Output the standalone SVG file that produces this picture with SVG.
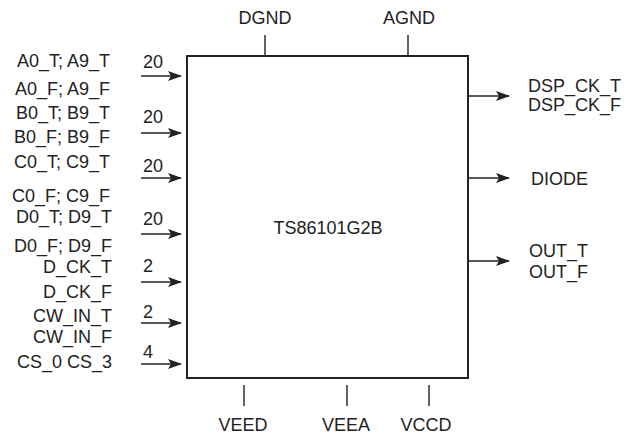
<svg xmlns="http://www.w3.org/2000/svg" width="628" height="435" viewBox="0 0 628 435">
<defs>
<marker id="ah" markerWidth="14" markerHeight="10" refX="13" refY="5" orient="auto" markerUnits="userSpaceOnUse">
<path d="M0,0 L14,5 L0,10 L3,5 Z" fill="#222"/>
</marker>
</defs>
<style>
text{font-family:"Liberation Sans",Arial,sans-serif;font-size:18px;fill:#222}
.e{text-anchor:end}
.m{text-anchor:middle}
.a{stroke:#222;stroke-width:1.4;fill:none;marker-end:url(#ah)}
.p{stroke:#222;stroke-width:1.4;fill:none}
</style>
<rect width="628" height="435" fill="#fff"/>
<g id="chip">
<rect x="187" y="56" width="281" height="322" fill="#fff" stroke="#222" stroke-width="2"/>
<text class="m" x="328" y="234">TS86101G2B</text>
</g>
<g id="connectors">
<line class="a" x1="141" y1="76" x2="181" y2="76"/>
<line class="a" x1="141" y1="133" x2="181" y2="133"/>
<line class="a" x1="141" y1="178" x2="181" y2="178"/>
<line class="a" x1="141" y1="234" x2="181" y2="234"/>
<line class="a" x1="141" y1="282" x2="181" y2="282"/>
<line class="a" x1="141" y1="323" x2="181" y2="323"/>
<line class="a" x1="141" y1="364" x2="181" y2="364"/>
<line class="a" x1="468" y1="96" x2="509" y2="96"/>
<line class="a" x1="468" y1="178" x2="509" y2="178"/>
<line class="a" x1="468" y1="261" x2="509" y2="261"/>
<line class="p" x1="265" y1="35" x2="265" y2="56"/>
<line class="p" x1="408" y1="35" x2="408" y2="56"/>
<line class="p" x1="244" y1="385" x2="244" y2="406"/>
<line class="p" x1="347" y1="385" x2="347" y2="406"/>
<line class="p" x1="429" y1="385" x2="429" y2="406"/>
</g>
<g id="bus-widths">
<text x="143" y="68">20</text>
<text x="143" y="123">20</text>
<text x="143" y="172">20</text>
<text x="143" y="225">20</text>
<text x="143" y="272">2</text>
<text x="143" y="318">2</text>
<text x="143" y="358">4</text>
</g>
<g id="inputs">
<text class="e" x="110" y="67">A0_T; A9_T</text>
<text class="e" x="110" y="95">A0_F; A9_F</text>
<text class="e" x="110" y="119">B0_T; B9_T</text>
<text class="e" x="110" y="143">B0_F; B9_F</text>
<text class="e" x="110" y="168">C0_T; C9_T</text>
<text class="e" x="110" y="202">C0_F; C9_F</text>
<text class="e" x="112" y="223">D0_T; D9_T</text>
<text class="e" x="112" y="252">D0_F; D9_F</text>
<text class="e" x="112" y="273">D_CK_T</text>
<text class="e" x="112" y="298">D_CK_F</text>
<text class="e" x="112" y="322">CW_IN_T</text>
<text class="e" x="112" y="343">CW_IN_F</text>
<text class="e" x="112" y="368">CS_0 CS_3</text>
</g>
<g id="outputs">
<text x="528" y="92">DSP_CK_T</text>
<text x="528" y="111">DSP_CK_F</text>
<text x="531" y="185">DIODE</text>
<text x="529" y="257">OUT_T</text>
<text x="529" y="278">OUT_F</text>
</g>
<g id="supplies">
<text class="m" x="265" y="24">DGND</text>
<text class="m" x="409" y="24">AGND</text>
<text class="m" x="243" y="431">VEED</text>
<text class="m" x="346" y="431">VEEA</text>
<text class="m" x="426" y="431">VCCD</text>
</g>
</svg>
